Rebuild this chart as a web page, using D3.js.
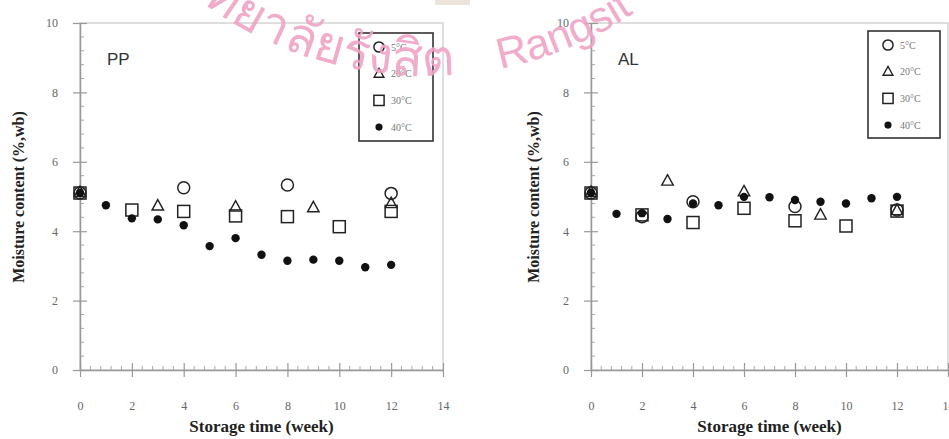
<!DOCTYPE html>
<html>
<head>
<meta charset="utf-8">
<script src="https://cdn.jsdelivr.net/npm/d3@7/dist/d3.min.js"></script>
<style>
  html, body { margin: 0; padding: 0; background: #fff; }
  svg { display: block; }
</style>
</head>
<body>
<svg id="chart" width="949" height="439"></svg>
<script>
// Storage weeks and tick values
const xTicks = [0, 2, 4, 6, 8, 10, 12, 14];
const yTicks = [0, 2, 4, 6, 8, 10];
const seriesNames = ["5°C", "20°C", "30°C", "40°C"];

// PP packaging: moisture content (%, wb) by week
const ppWeeks5 = [0, 4, 8, 12];
const ppVals5 = [5.1, 5.25, 5.33, 5.09];
const ppWeeks20 = [0, 3, 6, 9, 12];
const ppVals20 = [5.12, 4.73, 4.7, 4.68, 4.8];
const ppWeeks30 = [0, 2, 4, 6, 8, 10, 12];
const ppVals30 = [5.1, 4.61, 4.57, 4.44, 4.42, 4.13, 4.57];
const ppWeeks40 = [0, 1, 2, 3, 4, 5, 6, 7, 8, 9, 10, 11, 12];
const ppVals40 = [5.1, 4.75, 4.37, 4.34, 4.17, 3.57, 3.8, 3.32, 3.15, 3.18, 3.15, 2.96, 3.03];

// AL packaging: moisture content (%, wb) by week
const alWeeks5 = [0, 2, 4, 8, 12];
const alVals5 = [5.1, 4.42, 4.85, 4.71, 4.61];
const alWeeks20 = [0, 3, 6, 9, 12];
const alVals20 = [5.12, 5.45, 5.14, 4.47, 4.6];
const alWeeks30 = [0, 2, 4, 6, 8, 10, 12];
const alVals30 = [5.1, 4.47, 4.25, 4.66, 4.3, 4.15, 4.58];
const alWeeks40 = [0, 1, 2, 3, 4, 5, 6, 7, 8, 9, 10, 11, 12];
const alVals40 = [5.1, 4.5, 4.52, 4.35, 4.8, 4.75, 4.99, 4.98, 4.9, 4.85, 4.8, 4.95, 4.99];

const zip = (w, v) => w.map((d, i) => ({ x: d, y: v[i] }));

const svg = d3.select("#chart");
const serif = "'Liberation Serif', 'Times New Roman', serif";
const sans = "'Liberation Sans', Arial, sans-serif";

function marker(g, kind, cx, cy, scale) {
  const s = scale || 1;
  if (kind === 0) {
    g.append("circle").attr("cx", cx).attr("cy", cy).attr("r", 6 * s)
      .attr("fill", "none").attr("stroke", "#222").attr("stroke-width", 1.5);
  } else if (kind === 1) {
    const h = 10.5 * s, w = 11.5 * s;
    g.append("path")
      .attr("d", `M${cx},${cy - h * 0.6} L${cx + w / 2},${cy + h * 0.4} L${cx - w / 2},${cy + h * 0.4} Z`)
      .attr("fill", "none").attr("stroke", "#222").attr("stroke-width", 1.4);
  } else if (kind === 2) {
    const a = 12 * s;
    g.append("rect").attr("x", cx - a / 2).attr("y", cy - a / 2).attr("width", a).attr("height", a)
      .attr("fill", "none").attr("stroke", "#222").attr("stroke-width", 1.5);
  } else {
    g.append("circle").attr("cx", cx).attr("cy", cy).attr("r", 4.2 * s).attr("fill", "#111");
  }
}

function panel(cfg) {
  const x = d3.scaleLinear().domain([0, 14]).range([cfg.x0, cfg.x1]);
  const y = d3.scaleLinear().domain([0, 10]).range([370, 23]);
  const g = svg.append("g");

  // plot frame
  g.append("rect").attr("x", cfg.x0).attr("y", y(10))
    .attr("width", cfg.x1 - cfg.x0).attr("height", y(0) - y(10))
    .attr("fill", "none").attr("stroke", "#d4d4d4").attr("stroke-width", 1.5);

  // minor ticks (inside)
  const minor = d3.range(0, 14.001, 0.4).filter(v => Math.abs(v / 2 - Math.round(v / 2)) > 0.01);
  g.selectAll(".mx").data(minor).join("line")
    .attr("x1", d => x(d)).attr("x2", d => x(d)).attr("y1", y(0)).attr("y2", y(0) - 4)
    .attr("stroke", "#aaa").attr("stroke-width", 1);
  const minorY = d3.range(0, 10.001, 0.4).filter(v => Math.abs(v / 2 - Math.round(v / 2)) > 0.01);
  g.selectAll(".my").data(minorY).join("line")
    .attr("x1", x(0)).attr("x2", x(0) + 4).attr("y1", d => y(d)).attr("y2", d => y(d))
    .attr("stroke", "#aaa").attr("stroke-width", 1);

  // axes
  const ax = g.append("g").attr("transform", `translate(0,${y(0)})`)
    .call(d3.axisBottom(x).tickValues(xTicks).tickSize(7).tickSizeOuter(0).tickPadding(24));
  ax.selectAll(".tick line").attr("y1", -7);
  const ay = g.append("g").attr("transform", `translate(${x(0)},0)`)
    .call(d3.axisLeft(y).tickValues(yTicks).tickSize(7).tickSizeOuter(0).tickPadding(15));
  ay.selectAll(".tick line").attr("x1", 7);
  [ax, ay].forEach(a => {
    a.select(".domain").attr("stroke", "#999").attr("stroke-width", 1.5);
    a.selectAll(".tick line").attr("stroke", "#999").attr("stroke-width", 1.2);
    a.selectAll(".tick text").attr("fill", "#666").attr("font-family", serif).attr("font-size", 12);
  });

  // axis titles
  g.append("text").attr("x", (cfg.x0 + cfg.x1) / 2).attr("y", 432)
    .attr("text-anchor", "middle").attr("font-family", serif).attr("font-weight", "bold")
    .attr("font-size", 17).attr("fill", "#222").text("Storage time (week)");
  g.append("text").attr("transform", `translate(${cfg.yTitleX},197) rotate(-90)`)
    .attr("text-anchor", "middle").attr("font-family", serif).attr("font-weight", "bold")
    .attr("font-size", 16).attr("fill", "#222").text("Moisture content (%,wb)");

  // panel label
  g.append("text").attr("x", x(0) + cfg.labelDx).attr("y", 65)
    .attr("font-family", sans).attr("font-size", 17).attr("fill", "#333").text(cfg.label);

  // data points
  cfg.series.forEach((s, k) => {
    zip(s[0], s[1]).forEach(d => marker(g, k, x(d.x), y(d.y)));
  });

  // legend
  const L = cfg.legend;
  g.append("rect").attr("x", L.x).attr("y", L.y).attr("width", L.w).attr("height", L.h)
    .attr("fill", "#fff").attr("stroke", "#333").attr("stroke-width", 1.6);
  seriesNames.forEach((name, k) => {
    const cy = L.y + 14 + k * 26.7;
    marker(g, k, L.x + 20, cy, 0.85);
    g.append("text").attr("x", L.x + 32).attr("y", cy + 3.5)
      .attr("font-family", serif).attr("font-size", 10).attr("fill", "#777").text(name);
  });
}

panel({
  x0: 80, x1: 443, yTitleX: 24, label: "PP", labelDx: 27,
  legend: { x: 359, y: 33, w: 74, h: 108 },
  series: [[ppWeeks5, ppVals5], [ppWeeks20, ppVals20], [ppWeeks30, ppVals30], [ppWeeks40, ppVals40]]
});
panel({
  x0: 591, x1: 948, yTitleX: 539, label: "AL", labelDx: 27,
  legend: { x: 868, y: 31, w: 72, h: 107 },
  series: [[alWeeks5, alVals5], [alWeeks20, alVals20], [alWeeks30, alVals30], [alWeeks40, alVals40]]
});

// institution watermark along a circular arc
svg.append("rect").attr("x", 435).attr("y", 0).attr("width", 35).attr("height", 5).attr("fill", "#ece4da");
const cx = 426, cy = -299, R = 375;
const a1 = 160 * Math.PI / 180, a2 = 20 * Math.PI / 180;
const arc = `M${cx + R * Math.cos(a1)},${cy + R * Math.sin(a1)} A${R},${R} 0 0 0 ${cx + R * Math.cos(a2)},${cy + R * Math.sin(a2)}`;
svg.append("path").attr("id", "wm").attr("d", arc).attr("fill", "none");
const arcLen = (px) => R * (a1 - Math.acos((px - cx) / R));
const wm = svg.append("g").attr("fill", "#f0a3c6").attr("font-family", sans).attr("opacity", 0.9);
wm.append("text").attr("font-size", 51).append("textPath").attr("href", "#wm")
  .attr("startOffset", arcLen(455)).attr("text-anchor", "end").text("มหาวิทยาลัยรังสิต");
wm.append("text").attr("font-size", 43).append("textPath").attr("href", "#wm")
  .attr("startOffset", arcLen(500)).attr("text-anchor", "start").text("Rangsit");
</script>
</body>
</html>
